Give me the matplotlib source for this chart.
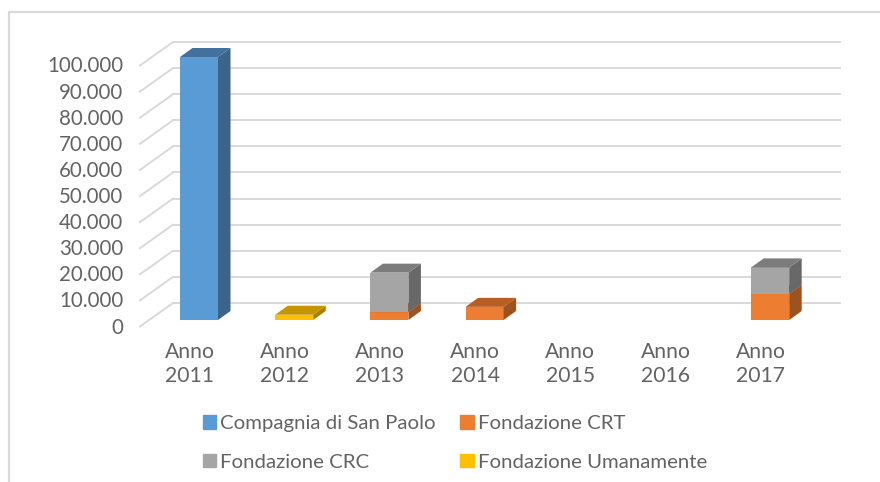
import matplotlib
matplotlib.use("Agg")
import matplotlib.pyplot as plt
import numpy as np
from matplotlib.patches import Polygon, Rectangle
from matplotlib.lines import Line2D
from matplotlib.transforms import ScaledTranslation

W, H = 880, 482

anni = ["Anno\n2011", "Anno\n2012", "Anno\n2013", "Anno\n2014", "Anno\n2015", "Anno\n2016", "Anno\n2017"]
tick_values = [0, 10000, 20000, 30000, 40000, 50000, 60000, 70000, 80000, 90000, 100000]
tick_labels = ["0", "10.000", "20.000", "30.000", "40.000", "50.000", "60.000", "70.000", "80.000", "90.000", "100.000"]

sanpaolo = [100000, 0, 0, 0, 0, 0, 0]
crt = [0, 0, 3000, 5000, 0, 0, 10000]
crc = [0, 0, 15000, 0, 0, 0, 10000]
umanamente = [0, 2000, 0, 0, 0, 0, 0]

serie = [
    ("Compagnia di San Paolo", sanpaolo, "#5b9bd5", "#41719c", "#3a6488"),
    ("Fondazione CRT", crt, "#ed7d31", "#b85e22", "#9c531f"),
    ("Fondazione CRC", crc, "#a5a5a5", "#7c7c7c", "#686868"),
    ("Fondazione Umanamente", umanamente, "#ffc000", "#c49500", "#a88000"),
]

plt.rcParams['font.family'] = ['Lato', 'DejaVu Sans']

fig = plt.figure(figsize=(W / 100, H / 100), dpi=100)
# the axes is the front of the floor: 0 at pixel 320, 100.000 at pixel 57
ax = fig.add_axes([140 / W, (H - 320) / H, 700 / W, 263 / H])
ax.set_xlim((140 - 199) / 95.2, (840 - 199) / 95.2)
ax.set_ylim(0, 100000)

# pixels to data units
px_x = 1 / 95.2
px_y = 100000 / 263

bar_w = 38 * px_x
dx = 12.5 * px_x
dy = 9 * px_y

# frame, only top and left
fig.add_artist(Line2D([9 / W, 9 / W, 1], [0, 1 - 12 / H, 1 - 12 / H], color="#d9d9d9", lw=1.6))

# gridlines on the back wall and the side wall
wall_left = ax.get_xlim()[0]
back_left = wall_left + 33 * px_x
wall_scale = 261 / 263
for v in tick_values:
    back = v * wall_scale + 17 * px_y
    ax.plot([back_left, ax.get_xlim()[1]], [back, back], color="#d9d9d9", lw=1.4, clip_on=False, zorder=1)
    ax.plot([wall_left, back_left], [v * wall_scale - 6.5 * px_y, back], color="#d9d9d9", lw=1.4, clip_on=False, zorder=1)

# stacked bars with a top and a side face
x = np.arange(len(anni))
bottom = np.zeros(len(anni))
for nome, valori, front, top, side in serie:
    valori = np.array(valori)
    ax.bar(x, valori, bar_w, bottom=bottom, color=front, zorder=3, clip_on=False)
    for i in x:
        if valori[i] == 0:
            continue
        l = i - bar_w / 2
        r = i + bar_w / 2
        y0 = bottom[i]
        y1 = y0 + valori[i]
        ax.add_patch(Polygon([(r, y0), (r + dx, y0 + dy), (r + dx, y1 + dy), (r, y1)],
                             color=side, lw=0, zorder=3, clip_on=False))
        ax.add_patch(Polygon([(l, y1), (l + dx, y1 + dy), (r + dx, y1 + dy), (r, y1)],
                             color=top, lw=0, zorder=3, clip_on=False))
    bottom = bottom + valori

for s in ax.spines.values():
    s.set_visible(False)
ax.patch.set_visible(False)

ax.set_xticks(x)
ax.set_xticklabels(anni, fontsize=15.2, color="#636363", linespacing=1.3)
ax.set_yticks(tick_values)
ax.set_yticklabels(tick_labels, fontsize=14.8, color="#636363")
ax.tick_params(axis="both", length=0)
ax.tick_params(axis="x", pad=15.5)
ax.tick_params(axis="y", pad=12)

# labels sit off the bars, as the 3d projection leaves them
for lab in ax.get_xticklabels():
    lab.set_transform(lab.get_transform() + ScaledTranslation(-9.5 / 100, 0, fig.dpi_scale_trans))
for lab, v in zip(ax.get_yticklabels(), tick_values):
    lab.set_transform(lab.get_transform() + ScaledTranslation(0, -(5.5 + 2 * v / 100000) / 100, fig.dpi_scale_trans))

# legend goes by columns, so CRC comes before CRT
order = [0, 2, 1, 3]
handles = [Rectangle((0, 0), 1, 1, color=serie[i][2]) for i in order]
labels = [serie[i][0] for i in order]
ax.legend(handles, labels, ncols=2, frameon=False, fontsize=14.7, labelcolor="#636363",
          loc="lower left", bbox_to_anchor=(203 / W, (H - 470.5) / H), bbox_transform=fig.transFigure,
          borderpad=0, borderaxespad=0,
          handlelength=0.65, handleheight=0.65, handletextpad=0.2, columnspacing=1.2, labelspacing=1.03)

fig.savefig("out.png", dpi=100)
